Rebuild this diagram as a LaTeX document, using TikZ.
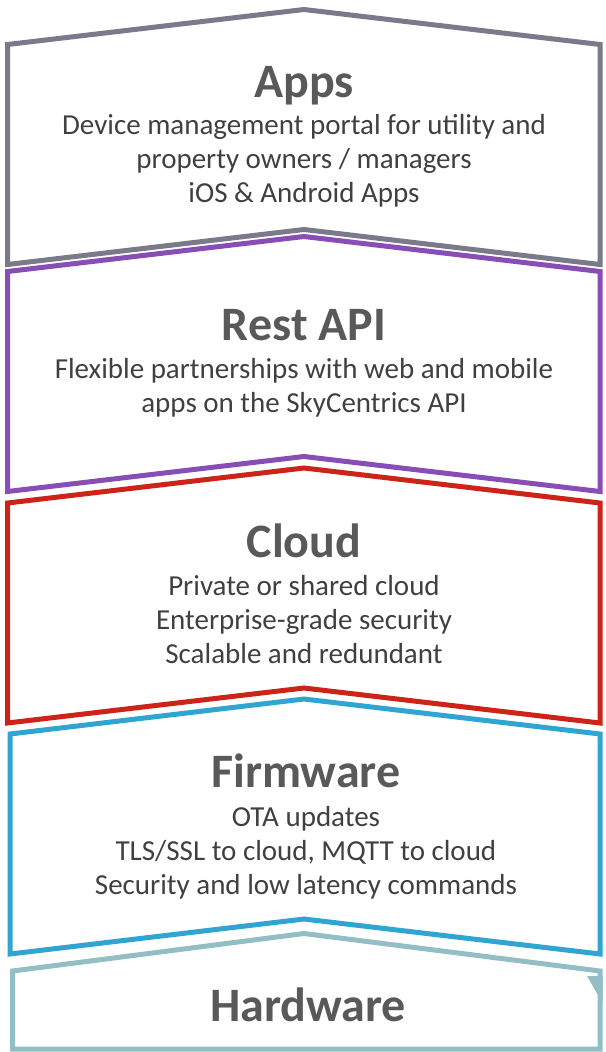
\documentclass[tikz,border=0pt]{standalone}
\usepackage{fontspec}
\setmainfont{Carlito}
\usepackage{tikz}
\definecolor{appsgray}{RGB}{122,122,138}
\definecolor{apipurple}{RGB}{137,77,182}
\definecolor{cloudred}{RGB}{204,36,24}
\definecolor{fwblue}{RGB}{48,165,210}
\definecolor{hwteal}{RGB}{147,190,197}
\definecolor{titlegray}{RGB}{89,89,89}
\definecolor{bodygray}{RGB}{64,64,64}

\begin{document}
\begin{tikzpicture}[x=1pt,y=-1pt,
                        layer/.style={line width=5,line join=miter,fill=none},
                        title/.style={anchor=base,inner sep=0,text=titlegray,font=\fontsize{48}{56}\selectfont\bfseries},
                        body/.style={anchor=base,inner sep=0,align=center,text=bodygray,font=\fontsize{29}{33.6}\selectfont}
                        ]
                        \useasboundingbox (0,0) rectangle (605,1052);
                        \def\R{600}  % right edge
                        \def\M{304}  % apex x
                        \def\P{35}   % apex rise
                        \def\H{255}  % layer side height

                        \foreach \yy/\l/\col in {9.5/7.5/appsgray, 236.5/7.5/apipurple, 468/7.5/cloudred, 699/10/fwblue} {
                            \begin{scope}[shift={(0,\yy)}]
                                \draw[layer, draw=\col] (\l,\P) -- (\M,0) -- (\R,\P) -- (\R,\H) -- (\M,\H-\P) -- (\l,\H) -- cycle;
                            \end{scope}
                        }
                        % hardware, cut by the page
                        \draw[layer, draw=hwteal] (12.5,1049) -- (12.5,971) -- (\M,933.5) -- (\R,971) -- (\R,1049) -- cycle;
                        \fill[hwteal] (587,976) -- (602.5,976) -- (602.5,1003) -- cycle;

                        % text nodes sit on the baseline of their last line
                        \node[title] (apps-title) at (\M,97) {Apps};
                        \node[body] (apps-text) at (\M,202) {Device management portal for utility and\\property owners / managers\\iOS \& Android Apps};
                        \node[title] (api-title) at (\M,340) {Rest API};
                        \node[body] (api-text) at (\M,412) {Flexible partnerships with web and mobile\\apps on the SkyCentrics API};
                        \node[title] (cloud-title) at (\M,557) {Cloud};
                        \node[body] (cloud-text) at (\M,663) {Private or shared cloud\\Enterprise-grade security\\Scalable and redundant};
                        \node[title] (fw-title) at (306,787) {Firmware};
                        \node[body] (fw-text) at (306,894) {OTA updates\\TLS/SSL to cloud, MQTT to cloud\\Security and low latency commands};
                        \node[title] (hw-title) at (308,1021) {Hardware};
                    \end{tikzpicture}
\end{document}
